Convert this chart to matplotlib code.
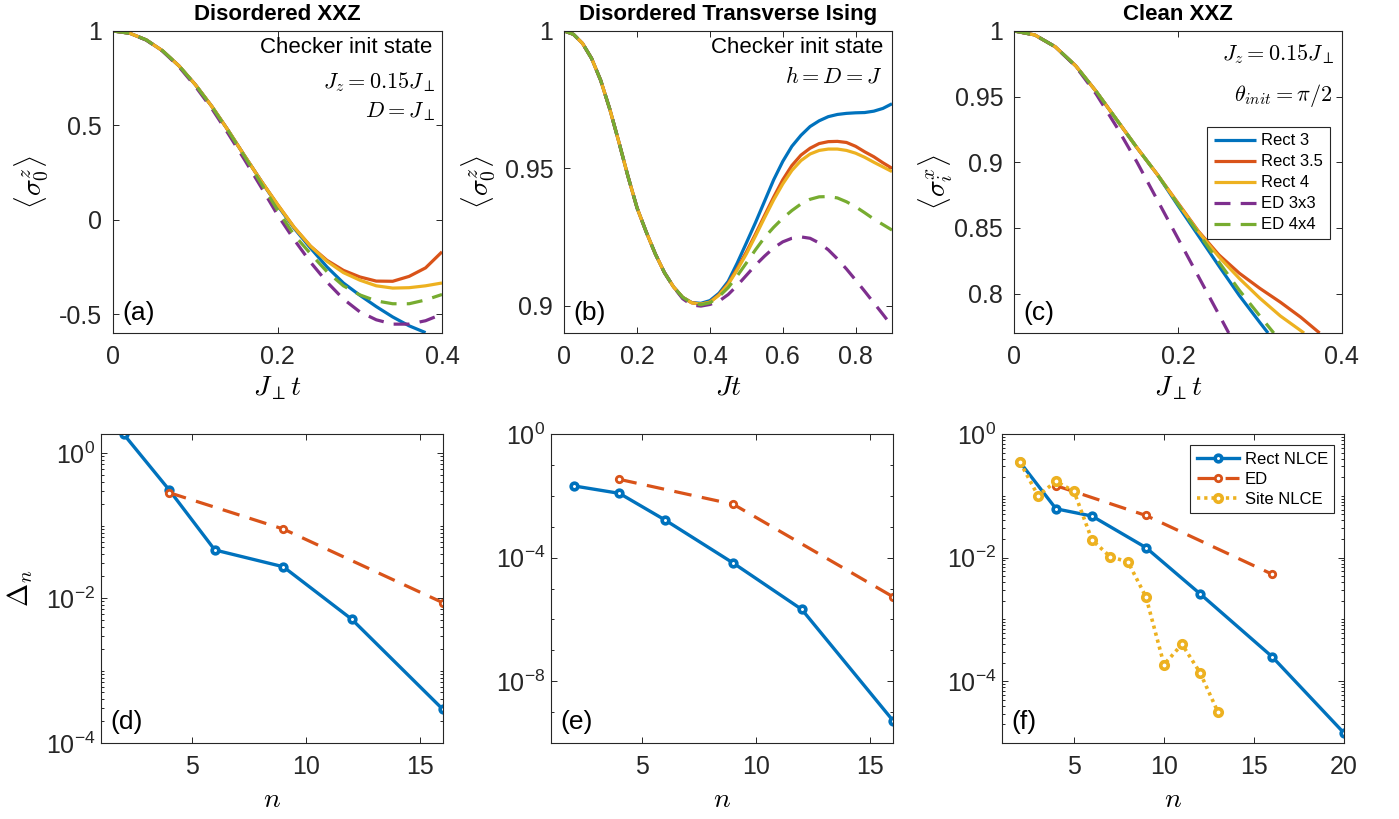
import numpy as np
import matplotlib
matplotlib.use('Agg')
import matplotlib.pyplot as plt
from matplotlib.ticker import FixedLocator, FuncFormatter, LogLocator, NullFormatter

plt.rcParams['font.family'] = ['Liberation Sans', 'DejaVu Sans']
plt.rcParams['mathtext.fontset'] = 'cm'
plt.rcParams['axes.unicode_minus'] = False

# ---------------- colours (MATLAB default order) ----------------
C_BLUE, C_RED, C_YEL, C_PUR, C_GRN = '#0072BD', '#D95319', '#EDB120', '#7E2F8E', '#77AC30'
AX_COL = '#262626'

# ---------------- panel (a): Disordered XXZ ----------------
t_a = [0, 0.02, 0.04, 0.06, 0.08, 0.10, 0.12, 0.14, 0.16, 0.18, 0.20,
       0.22, 0.24, 0.26, 0.28, 0.30, 0.32, 0.34, 0.36, 0.38, 0.40]
a_rect4 = [1, 0.988, 0.953, 0.895, 0.815, 0.715, 0.600, 0.472, 0.337, 0.205, 0.080,
           -0.040, -0.140, -0.220, -0.280, -0.320, -0.350, -0.362, -0.360, -0.350, -0.335]
a_rect35 = [1, 0.988, 0.953, 0.895, 0.815, 0.715, 0.600, 0.472, 0.337, 0.205, 0.080,
            -0.040, -0.140, -0.215, -0.268, -0.303, -0.325, -0.326, -0.300, -0.255, -0.170]
t_a_rect3 = [0, 0.02, 0.04, 0.06, 0.08, 0.10, 0.12, 0.14, 0.16, 0.18, 0.20,
             0.22, 0.24, 0.26, 0.28, 0.30, 0.32, 0.34, 0.36, 0.38]
a_rect3 = [1, 0.988, 0.953, 0.895, 0.815, 0.715, 0.600, 0.472, 0.337, 0.205, 0.075,
           -0.045, -0.150, -0.250, -0.335, -0.400, -0.460, -0.515, -0.562, -0.598]
a_ed3 = [1, 0.988, 0.952, 0.893, 0.810, 0.706, 0.588, 0.455, 0.316, 0.172, 0.025,
         -0.105, -0.225, -0.330, -0.420, -0.488, -0.530, -0.553, -0.553, -0.535, -0.500]
a_ed4 = [1, 0.988, 0.953, 0.895, 0.815, 0.714, 0.598, 0.469, 0.333, 0.192, 0.050,
         -0.080, -0.180, -0.275, -0.350, -0.398, -0.430, -0.445, -0.445, -0.425, -0.396]

# ---------------- panel (b): Disordered Transverse Ising ----------------
t_b = [0, 0.025, 0.05, 0.075, 0.1, 0.125, 0.15, 0.175, 0.2, 0.225, 0.25, 0.275, 0.3,
       0.325, 0.35, 0.375, 0.4, 0.425, 0.45, 0.475, 0.5, 0.525, 0.55, 0.575, 0.6,
       0.625, 0.65, 0.675, 0.7, 0.725, 0.75, 0.775, 0.8, 0.825, 0.85, 0.875, 0.9]
b_rect3 = [1, 0.9988, 0.9955, 0.990, 0.982, 0.9715, 0.9595, 0.947, 0.9355, 0.9268, 0.9188,
           0.9120, 0.9068, 0.9030, 0.9011, 0.9008, 0.9018, 0.9045, 0.9088, 0.9155, 0.9228,
           0.9302, 0.9380, 0.9458, 0.9525, 0.9580, 0.9620, 0.9652, 0.9673, 0.9688, 0.9696,
           0.9700, 0.9702, 0.9703, 0.9708, 0.9718, 0.9735]
b_rect35 = [1, 0.9988, 0.9955, 0.990, 0.982, 0.9715, 0.9595, 0.947, 0.9355, 0.9268, 0.9188,
            0.9120, 0.9068, 0.9030, 0.9010, 0.9005, 0.9013, 0.9040, 0.9080, 0.9135, 0.9195,
            0.9260, 0.9328, 0.9395, 0.9458, 0.9510, 0.9548, 0.9573, 0.9590, 0.9597, 0.9598,
            0.9594, 0.9580, 0.9560, 0.9542, 0.9520, 0.9500]
b_rect4 = [1, 0.9988, 0.9955, 0.990, 0.982, 0.9715, 0.9595, 0.947, 0.9355, 0.9268, 0.9188,
           0.9120, 0.9068, 0.9030, 0.9010, 0.9005, 0.9012, 0.9038, 0.9077, 0.9130, 0.9188,
           0.9253, 0.9320, 0.9385, 0.9443, 0.9492, 0.9528, 0.9552, 0.9565, 0.9570, 0.9570,
           0.9565, 0.9555, 0.9540, 0.9522, 0.9505, 0.9488]
b_ed3 = [1, 0.9988, 0.9955, 0.990, 0.982, 0.9715, 0.9595, 0.947, 0.9355, 0.9268, 0.9188,
         0.9120, 0.9068, 0.9025, 0.9002, 0.8998, 0.9004, 0.9016, 0.9040, 0.9073, 0.9110,
         0.9147, 0.9180, 0.9210, 0.9232, 0.9245, 0.9250, 0.9245, 0.9228, 0.9203, 0.9170,
         0.9133, 0.9093, 0.9052, 0.9010, 0.8968, 0.8925]
b_ed4 = [1, 0.9988, 0.9955, 0.990, 0.982, 0.9715, 0.9595, 0.947, 0.9355, 0.9268, 0.9188,
         0.9120, 0.9068, 0.9030, 0.9009, 0.9003, 0.9010, 0.9033, 0.9065, 0.9108, 0.9155,
         0.9203, 0.9248, 0.9285, 0.9318, 0.9346, 0.9370, 0.9387, 0.9396, 0.9397, 0.9392,
         0.9378, 0.9360, 0.9338, 0.9315, 0.9295, 0.9275]

# ---------------- panel (c): Clean XXZ ----------------
t_c_rect3 = [0, 0.025, 0.05, 0.075, 0.1, 0.125, 0.15, 0.175, 0.2, 0.225, 0.25, 0.275, 0.3, 0.31]
c_rect3 = [1, 0.997, 0.988, 0.9735, 0.954, 0.9325, 0.911, 0.8905, 0.867, 0.844, 0.821, 0.7985, 0.778, 0.770]
t_c_rect35 = [0, 0.025, 0.05, 0.075, 0.1, 0.125, 0.15, 0.175, 0.2, 0.225, 0.25, 0.275, 0.3, 0.325, 0.35, 0.373]
c_rect35 = [1, 0.997, 0.988, 0.9735, 0.954, 0.9325, 0.911, 0.8905, 0.869, 0.8475, 0.8295, 0.8155, 0.804, 0.7935, 0.782, 0.770]
t_c_rect4 = [0, 0.025, 0.05, 0.075, 0.1, 0.125, 0.15, 0.175, 0.2, 0.225, 0.25, 0.275, 0.3, 0.325, 0.354]
c_rect4 = [1, 0.997, 0.988, 0.9735, 0.954, 0.9325, 0.911, 0.8905, 0.8685, 0.847, 0.828, 0.8115, 0.7965, 0.783, 0.770]
t_c_ed3 = [0, 0.025, 0.05, 0.075, 0.1, 0.125, 0.15, 0.175, 0.2, 0.225, 0.25, 0.262]
c_ed3 = [1, 0.997, 0.988, 0.973, 0.952, 0.927, 0.900, 0.871, 0.842, 0.813, 0.784, 0.770]
t_c_ed4 = [0, 0.025, 0.05, 0.075, 0.1, 0.125, 0.15, 0.175, 0.2, 0.225, 0.25, 0.275, 0.3, 0.317]
c_ed4 = [1, 0.997, 0.988, 0.9735, 0.954, 0.9325, 0.911, 0.8905, 0.868, 0.846, 0.824, 0.8025, 0.783, 0.770]

series_labels = ['Rect 3', 'Rect 3.5', 'Rect 4', 'ED 3x3', 'ED 4x4']

# ---------------- panel (d) ----------------
d_rect_n = [2, 4, 6, 9, 12, 16]
d_rect = [1.83, 0.31, 0.046, 0.027, 0.0051, 2.9e-4]
d_ed_n = [4, 9, 16]
d_ed = [0.284, 0.0895, 0.0086]

# ---------------- panel (e) ----------------
e_rect_n = [2, 4, 6, 9, 12, 16]
e_rect = [0.0209, 0.012, 1.65e-3, 6.6e-5, 2.1e-6, 5.3e-10]
e_ed_n = [4, 9, 16]
e_ed = [0.034, 5.3e-3, 5.4e-6]

# ---------------- panel (f) ----------------
f_rect_n = [2, 4, 6, 9, 12, 16, 20]
f_rect = [0.35, 0.0616, 0.047, 0.0145, 2.6e-3, 2.5e-4, 1.45e-5]
f_ed_n = [4, 9, 16]
f_ed = [0.146, 0.048, 5.4e-3]
f_site_n = [2, 3, 4, 5, 6, 7, 8, 9, 10, 11, 12, 13]
f_site = [0.35, 0.1007, 0.171, 0.118, 0.0193, 0.0104, 8.5e-3, 2.3e-3, 1.86e-4, 3.96e-4, 1.38e-4, 3.15e-5]

bottom_labels = ['Rect NLCE', 'ED', 'Site NLCE']

# ======================================================================
fig = plt.figure(figsize=(13.99, 8.19), dpi=100)
W, H = 1399.0, 819.0

def px_axes(l, r, t, b):
    return fig.add_axes([l / W, 1 - b / H, (r - l) / W, (b - t) / H])

axA = px_axes(113.3, 442.0, 31.0, 333.0)
axB = px_axes(564.3, 892.0, 31.0, 333.0)
axC = px_axes(1014.3, 1341.7, 31.0, 333.0)
axD = px_axes(100.7, 443.0, 434.0, 743.0)
axE = px_axes(551.0, 893.0, 434.0, 743.0)
axF = px_axes(1002.0, 1344.0, 434.0, 743.0)

LW = 2.3
DASH = (5.0, 3.2)

def style(ax, labelsize=18, ypad=8):
    for s in ax.spines.values():
        s.set_color(AX_COL)
        s.set_linewidth(0.8)
    ax.tick_params(which='both', direction='in', top=True, right=True,
                   colors=AX_COL, labelcolor=AX_COL, labelsize=labelsize, width=0.7)
    ax.tick_params(which='major', length=4)
    ax.tick_params(which='minor', length=2.5)
    ax.tick_params(axis='x', pad=9)
    ax.tick_params(axis='y', pad=ypad)

gfmt = FuncFormatter(lambda v, p: '%g' % round(v, 6))

def top_panel(ax, data, xlim, ylim, xt, yt):
    for (t, v), col, ls, lab in zip(data, [C_BLUE, C_RED, C_YEL, C_PUR, C_GRN],
                                     ['-', '-', '-', '--', '--'], series_labels):
        ln, = ax.plot(t, v, color=col, lw=LW, ls=ls, label=lab, solid_capstyle='butt')
        if ls == '--':
            ln.set_dashes(DASH)
    ax.set_xlim(*xlim)
    ax.set_ylim(*ylim)
    ax.xaxis.set_major_locator(FixedLocator(xt))
    ax.yaxis.set_major_locator(FixedLocator(yt))
    ax.xaxis.set_major_formatter(gfmt)
    ax.yaxis.set_major_formatter(gfmt)
    style(ax)

top_panel(axA, [(t_a_rect3, a_rect3), (t_a, a_rect35), (t_a, a_rect4), (t_a, a_ed3), (t_a, a_ed4)],
          (0, 0.4), (-0.6, 1.0), [0, 0.2, 0.4], [-0.5, 0, 0.5, 1])
top_panel(axB, [(t_b, b_rect3), (t_b, b_rect35), (t_b, b_rect4), (t_b, b_ed3), (t_b, b_ed4)],
          (0, 0.9), (0.89, 1.0), [0, 0.2, 0.4, 0.6, 0.8], [0.9, 0.95, 1])
top_panel(axC, [(t_c_rect3, c_rect3), (t_c_rect35, c_rect35), (t_c_rect4, c_rect4),
                (t_c_ed3, c_ed3), (t_c_ed4, c_ed4)],
          (0, 0.4), (0.77, 1.0), [0, 0.2, 0.4], [0.8, 0.85, 0.9, 0.95, 1])

TITLE_KW = dict(fontweight='bold', fontsize=16, pad=8, color='black')
axA.set_title('Disordered XXZ', **TITLE_KW)
axB.set_title('Disordered Transverse Ising', **TITLE_KW)
axC.set_title('Clean XXZ', **TITLE_KW)

ANN = dict(ha='right', va='center', fontsize=16, color='black')
axA.text(0.970, 0.947, 'Checker init state', transform=axA.transAxes, **ANN)
axA.text(0.979, 0.831, r'$J_z = 0.15J_{\perp}$', transform=axA.transAxes, **ANN)
axA.text(0.979, 0.732, r'$D = J_{\perp}$', transform=axA.transAxes, **ANN)
axB.text(0.9726, 0.947, 'Checker init state', transform=axB.transAxes, **ANN)
axB.text(0.9695, 0.848, r'$h = D = J$', transform=axB.transAxes, **ANN)
axC.text(0.977, 0.924, r'$J_z = 0.15J_{\perp}$', transform=axC.transAxes, **ANN)
axC.text(0.972, 0.788, r'$\theta_{init} = \pi/2$', transform=axC.transAxes, **ANN)

legC = axC.legend(loc='upper right', bbox_to_anchor=(0.964, 0.683), fontsize=12,
                  frameon=True, fancybox=False, framealpha=1, edgecolor=AX_COL,
                  handlelength=2.5, handletextpad=0.35, borderpad=0.4,
                  labelspacing=0.36, borderaxespad=0)
legC.get_frame().set_linewidth(0.8)

# ---------------- bottom panels ----------------
RECT_KW = dict(color=C_BLUE, lw=2.4, marker='o', ms=4.8, mew=2.6, mfc='white', mec=C_BLUE)
ED_KW = dict(color=C_RED, lw=2.3, marker='o', ms=4.6, mew=2.0, mfc='white', mec=C_RED)
SITE_KW = dict(color=C_YEL, lw=2.6, marker='o', ms=5.4, mew=2.6, mfc='white', mec=C_YEL)

def bottom_panel(ax, rect, ed, site, xlim, ylim, majors, minor_subs, xt):
    ax.plot(rect[0], rect[1], ls='-', label=bottom_labels[0], **RECT_KW)
    ln, = ax.plot(ed[0], ed[1], ls='--', label=bottom_labels[1], **ED_KW)
    ln.set_dashes((5.5, 3.3))
    if site is not None:
        ls_, = ax.plot(site[0], site[1], ls=':', label=bottom_labels[2], **SITE_KW)
        ls_.set_dashes((0.9, 1.1))
    ax.set_yscale('log')
    ax.set_xlim(*xlim)
    ax.set_ylim(*ylim)
    ax.yaxis.set_major_locator(FixedLocator(majors))
    ax.yaxis.set_minor_locator(LogLocator(base=10, subs=minor_subs, numticks=100))
    ax.yaxis.set_minor_formatter(NullFormatter())
    ax.xaxis.set_major_locator(FixedLocator(xt))
    style(ax, ypad=4)

bottom_panel(axD, (d_rect_n, d_rect), (d_ed_n, d_ed), None, (1, 16), (1e-4, max(d_rect)),
             [1e-4, 1e-2, 1e0], np.arange(1, 10), [5, 10, 15])
bottom_panel(axE, (e_rect_n, e_rect), (e_ed_n, e_ed), None, (1, 16), (1e-10, 1),
             [1e-8, 1e-4, 1e0], [1.0], [5, 10, 15])
bottom_panel(axF, (f_rect_n, f_rect), (f_ed_n, f_ed), (f_site_n, f_site), (1, 20), (1e-5, 1),
             [1e-4, 1e-2, 1e0], np.arange(1, 10), [5, 10, 15, 20])

legF = axF.legend(loc='upper right', bbox_to_anchor=(0.972, 0.964), fontsize=12,
                  frameon=True, fancybox=False, framealpha=1, edgecolor=AX_COL,
                  handlelength=2.5, handletextpad=0.35, borderpad=0.4,
                  labelspacing=0.3, borderaxespad=0)
legF.get_frame().set_linewidth(0.8)

# ---------------- panel letters ----------------
for ax, lab in [(axA, '(a)'), (axB, '(b)'), (axC, '(c)')]:
    ax.text(0.027, 0.066, lab, transform=ax.transAxes, ha='left', va='center', fontsize=19)
for ax, lab in [(axD, '(d)'), (axE, '(e)'), (axF, '(f)')]:
    ax.text(0.027, 0.068, lab, transform=ax.transAxes, ha='left', va='center', fontsize=19)

# ---------------- axis labels ----------------
LAB = 20
axA.set_ylabel(r'$\langle\sigma_0^z\rangle$', fontsize=LAB)
axB.set_ylabel(r'$\langle\sigma_0^z\rangle$', fontsize=LAB)
axC.set_ylabel(r'$\langle\sigma_i^x\rangle$', fontsize=LAB)
axD.set_ylabel(r'$\Delta_n$', fontsize=LAB)
axA.set_xlabel(r'$J_{\perp}t$', fontsize=LAB)
axB.set_xlabel(r'$Jt$', fontsize=LAB)
axC.set_xlabel(r'$J_{\perp}t$', fontsize=LAB)
for ax in (axD, axE, axF):
    ax.set_xlabel(r'$n$', fontsize=LAB)

for ax, x in [(axA, -0.247), (axB, -0.262), (axC, -0.24), (axD, -0.234)]:
    ax.yaxis.label.set_va('center')
    ax.yaxis.set_label_coords(x, 0.5)
for ax in (axA, axB, axC):
    ax.xaxis.label.set_va('center')
    ax.xaxis.set_label_coords(0.5, -0.182)
for ax in (axD, axE, axF):
    ax.xaxis.label.set_va('center')
    ax.xaxis.set_label_coords(0.5, -0.184)

fig.savefig('out.png', dpi=100)
